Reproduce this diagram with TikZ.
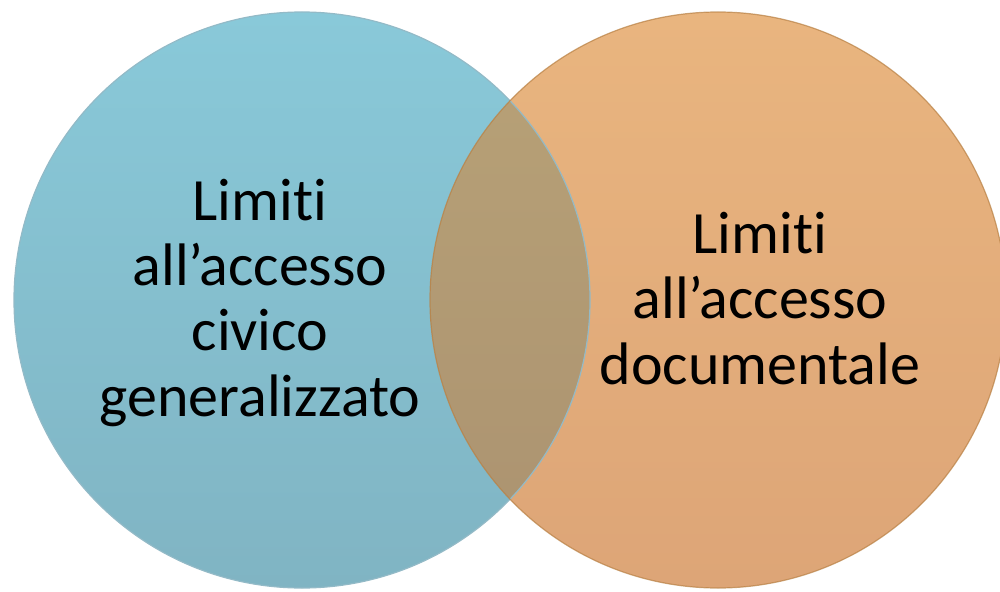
\documentclass[tikz,border=0pt]{standalone}
\usepackage{fontspec}
\setmainfont[RawFeature=-liga]{Carlito}
\definecolor{bluetop}{HTML}{89C9D9}
\definecolor{bluebot}{HTML}{80B4C3}
\definecolor{blueedge}{HTML}{5DAECB}
\definecolor{orgtop}{HTML}{E9B57F}
\definecolor{orgbot}{HTML}{DDA577}
\definecolor{orgedge}{HTML}{D9964F}
\definecolor{ovtop}{HTML}{B8A277}
\definecolor{ovbot}{HTML}{AB9270}
\tikzset{
  lbl/.style={align=center, text=black, font=\fontsize{60}{65.3}\selectfont, inner sep=0pt, anchor=base},
}
\begin{document}
\begin{tikzpicture}[x=1pt,y=-1pt]
\useasboundingbox (0,0) rectangle (1000,591);
\clip (0,0) rectangle (1000,591);
\coordinate (cb) at (302,300);
\coordinate (co) at (718,300);
% blue circle
\shade[top color=bluetop, bottom color=bluebot] (cb) circle[radius=288];
% orange circle
\shade[top color=orgtop, bottom color=orgbot] (co) circle[radius=288];
% overlap
\begin{scope}
  \clip (cb) circle[radius=288];
  \shade[top color=ovtop, bottom color=ovbot] (co) circle[radius=288];
\end{scope}
% edges
\draw[blueedge!80!black!60, line width=1.2pt] (cb) circle[radius=288];
\draw[orgedge!85!black, line width=1.2pt, opacity=0.7] (co) circle[radius=288];
% labels
\node[lbl] (tl) at (260,416) {Limiti\\all’accesso\\civico\\generalizzato};
\node[lbl] (tr) at (760,384) {Limiti\\all’accesso\\documentale};
\end{tikzpicture}
\end{document}
